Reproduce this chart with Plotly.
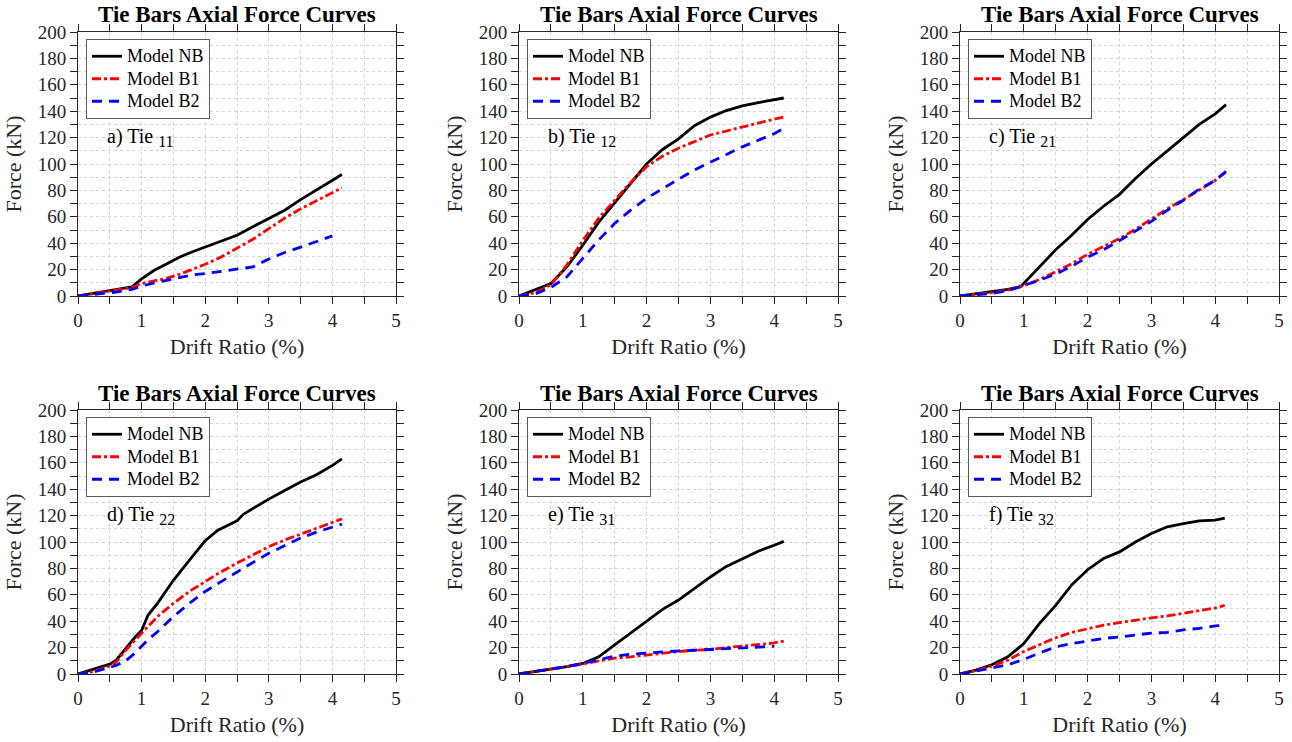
import plotly.graph_objects as go

# ---- Tie 11 ----
drift_11 = [0, 0.3, 0.6, 0.85, 1.0, 1.2, 1.4, 1.6, 1.8, 2.0, 2.25, 2.5, 2.75, 3.0, 3.25, 3.5, 3.75, 4.0, 4.15]
nb_11 = [0, 2.5, 5, 7, 13, 19.5, 24.5, 29.5, 33.5, 37, 41.5, 46, 52.5, 59, 65, 73, 80.5, 88, 92]
b1_11 = [0, 2, 4.5, 6.5, 9.5, 11.5, 13.5, 16.5, 20, 24, 29.5, 36, 43, 51, 59, 66, 72, 78, 82]
b2_11 = [0, 1.5, 3, 5, 7.5, 10, 12, 14, 16, 17, 18.5, 20, 22, 28, 33, 37, 41, 45.5, None]

# ---- Tie 12 ----
drift_12 = [0, 0.25, 0.5, 0.75, 1.0, 1.25, 1.5, 1.75, 2.0, 2.25, 2.5, 2.75, 3.0, 3.25, 3.5, 3.75, 4.0, 4.15]
nb_12 = [0, 4.5, 9.5, 22, 38.5, 56, 70.5, 85, 100, 111, 119, 129, 135.5, 140.5, 144, 146.5, 148.5, 150]
b1_12 = [0, 2.5, 8.5, 23.5, 42, 59, 72.5, 86, 98, 106, 112, 117, 122, 125, 128, 131.5, 134, 135.5]
b2_12 = [0, 1.5, 6.5, 14.5, 28.5, 42.5, 55, 65, 74, 81.5, 88.5, 95.5, 101.5, 107, 113, 118, 123, 127]

# ---- Tie 21 ----
drift_21 = [0, 0.25, 0.5, 0.75, 0.95, 1.25, 1.5, 1.75, 2.0, 2.25, 2.5, 2.75, 3.0, 3.25, 3.5, 3.75, 4.0, 4.17]
nb_21 = [0, 1.5, 3.5, 5, 7, 22, 35, 46, 58, 68, 77, 89, 100, 110, 120, 130, 138, 145]
b1_21 = [0, 1, 2.5, 4.5, 7, 12.5, 18.5, 24.5, 31.5, 37.5, 43.5, 50.5, 58.5, 66, 73, 80, 87.5, 94]
b2_21 = [0, 0.8, 2, 4, 7, 12, 16.5, 22.5, 29.5, 35, 42, 49.5, 56.5, 65, 72.5, 81, 87.5, 94.5]

# ---- Tie 22 ----
drift_22 = [0, 0.25, 0.5, 0.6, 0.75, 0.9, 1.0, 1.1, 1.25, 1.5, 1.75, 2.0, 2.2, 2.5, 2.6, 2.75, 3.0, 3.25, 3.5, 3.75, 4.0, 4.15]
nb_22 = [0, 3.5, 7.5, 10.5, 19.5, 28, 33, 44.5, 53.5, 71, 86, 101, 109, 116, 121, 125.5, 132.5, 139, 145.5, 151, 158, 163]
b1_22 = [0, 2, 6, 9, 18, 26, 31, 36, 43.5, 53.5, 62.5, 70, 76, 84, 86.5, 90, 96.5, 101.5, 106, 110.5, 114.5, 117.5]
b2_22 = [0, 1.5, 5, 6.5, 10, 16, 21, 26, 32, 43.5, 53.5, 62.5, 68.5, 77.5, 80, 84.5, 91.5, 97, 103, 107.5, 111.5, 113.5]

# ---- Tie 31 ----
drift_31 = [0, 0.25, 0.5, 0.75, 1.0, 1.25, 1.5, 1.75, 2.0, 2.25, 2.5, 2.75, 3.0, 3.25, 3.5, 3.75, 4.0, 4.15]
nb_31 = [0, 1.8, 3.5, 5.5, 8, 13, 22, 31, 40.5, 49, 56, 65, 73.5, 81.5, 87.5, 93, 97.5, 100.5]
b1_31 = [0, 1.8, 3.5, 5.5, 7.5, 10, 12, 13, 14.5, 16, 17, 18, 18.5, 20, 21, 22, 23.5, 25]
b2_31 = [0, 1.8, 3.5, 5.5, 8, 11, 13.5, 15, 16, 17, 17.5, 18, 18.5, 19.5, 20, 20.5, 21, None]

# ---- Tie 32 ----
drift_32 = [0, 0.25, 0.5, 0.75, 1.0, 1.25, 1.5, 1.75, 2.0, 2.25, 2.5, 2.75, 3.0, 3.25, 3.5, 3.75, 4.0, 4.15]
nb_32 = [0, 3, 7, 13, 23, 38.5, 52, 67.5, 79, 87.5, 92.5, 100, 106.5, 111.5, 114, 116, 116.5, 118]
b1_32 = [0, 2.5, 6, 10.5, 17, 22.5, 27.5, 31.5, 34.5, 37, 39, 41, 42.5, 44, 46, 48, 50, 52]
b2_32 = [0, 2, 4.5, 7, 11, 16, 20.5, 23, 25, 27, 28, 29.5, 31, 31.5, 33.5, 34.5, 36.5, 37]

panel_labels = ["a) Tie", "b) Tie", "c) Tie", "d) Tie", "e) Tie", "f) Tie"]
tie_ids = ["11", "12", "21", "22", "31", "32"]
model_names = ["Model NB", "Model B1", "Model B2"]
panel_title = "Tie Bars Axial Force Curves"
x_title = "Drift Ratio (%)"
y_title = "Force (kN)"

panels = [
    (drift_11, [nb_11, b1_11, b2_11]),
    (drift_12, [nb_12, b1_12, b2_12]),
    (drift_21, [nb_21, b1_21, b2_21]),
    (drift_22, [nb_22, b1_22, b2_22]),
    (drift_31, [nb_31, b1_31, b2_31]),
    (drift_32, [nb_32, b1_32, b2_32]),
]

FONT = "Liberation Serif"
INK = "#262626"
GRID = "#d4d4d4"
W, H = 1292, 742

line_styles = [
    dict(color="#000000", width=2.8, dash="solid"),
    dict(color="#ff0000", width=2.8, dash="9px,3px,3px,3px"),
    dict(color="#0000ff", width=2.8, dash="10px,7px"),
]

# axes placement in pixels (left, right) and (top, bottom)
col_px = [(78, 396), (519, 838), (960, 1279)]
row_px = [(32, 296), (410, 674)]

fig = go.Figure()
layout = dict(
    width=W, height=H,
    margin=dict(l=0, r=0, t=0, b=0),
    paper_bgcolor="white", plot_bgcolor="white",
    font=dict(family=FONT, color=INK),
    showlegend=True,
)
annotations = []

for i, (drift, series) in enumerate(panels):
    r, c = divmod(i, 3)
    n = i + 1
    xa = "x" if n == 1 else f"x{n}"
    ya = "y" if n == 1 else f"y{n}"
    lg = "legend" if n == 1 else f"legend{n}"
    for name, vals, st in zip(model_names, series, line_styles):
        fig.add_trace(go.Scatter(
            x=drift, y=vals, mode="lines",
            name=f'<span style="font-size:18px">{name}</span>',
            line=st, xaxis=xa, yaxis=ya, legend=lg,
        ))

    x0, x1 = col_px[c]
    y0, y1 = row_px[r]
    common = dict(
        showline=True, linecolor=INK, linewidth=1, mirror="allticks",
        ticks="outside", ticklen=7, tickcolor=INK, tickwidth=1,
        showgrid=True, gridcolor=GRID, gridwidth=1, griddash="dot",
        zeroline=False, tickfont=dict(size=19, family=FONT, color=INK),
        automargin=False,
    )
    minor = dict(ticks="outside", ticklen=7, tickcolor=INK,
                 showgrid=True, gridcolor=GRID, griddash="dot")
    layout["xaxis" if n == 1 else f"xaxis{n}"] = dict(
        common, domain=[x0 / W, x1 / W], anchor=ya, range=[0, 5], dtick=1,
        minor=dict(minor, dtick=0.5),
        title=dict(text=x_title, font=dict(size=22, family=FONT, color=INK), standoff=8),
    )
    layout["yaxis" if n == 1 else f"yaxis{n}"] = dict(
        common, domain=[1 - y1 / H, 1 - y0 / H], anchor=xa, range=[0, 200], dtick=20,
        minor=dict(minor, dtick=10),
        title=dict(text=y_title, font=dict(size=22, family=FONT, color=INK), standoff=10),
    )
    layout[lg] = dict(
        x=(x0 + 8) / W, y=1 - (y0 + 7) / H, xanchor="left", yanchor="top",
        bgcolor="white", bordercolor="#5a5a5a", borderwidth=1,
        font=dict(size=15, family=FONT, color="#000000"),
        itemwidth=30, tracegroupgap=0,
    )
    annotations.append(dict(
        text=f"<b>{panel_title}</b>", xref="paper", yref="paper",
        x=(x0 + x1) / 2 / W, y=1 - (y0 - 17) / H, xanchor="center", yanchor="middle",
        showarrow=False, font=dict(size=23, family=FONT, color="#000000"),
    ))
    annotations.append(dict(
        text=f'{panel_labels[i]} <sub><span style="font-size:16px">{tie_ids[i]}</span></sub>',
        xref=xa, yref=ya, x=0.42, y=120, xanchor="left", yanchor="middle",
        showarrow=False, font=dict(size=20, family=FONT, color="#000000"),
    ))

layout["annotations"] = annotations
fig.update_layout(**layout)
fig.write_html("out.html")
